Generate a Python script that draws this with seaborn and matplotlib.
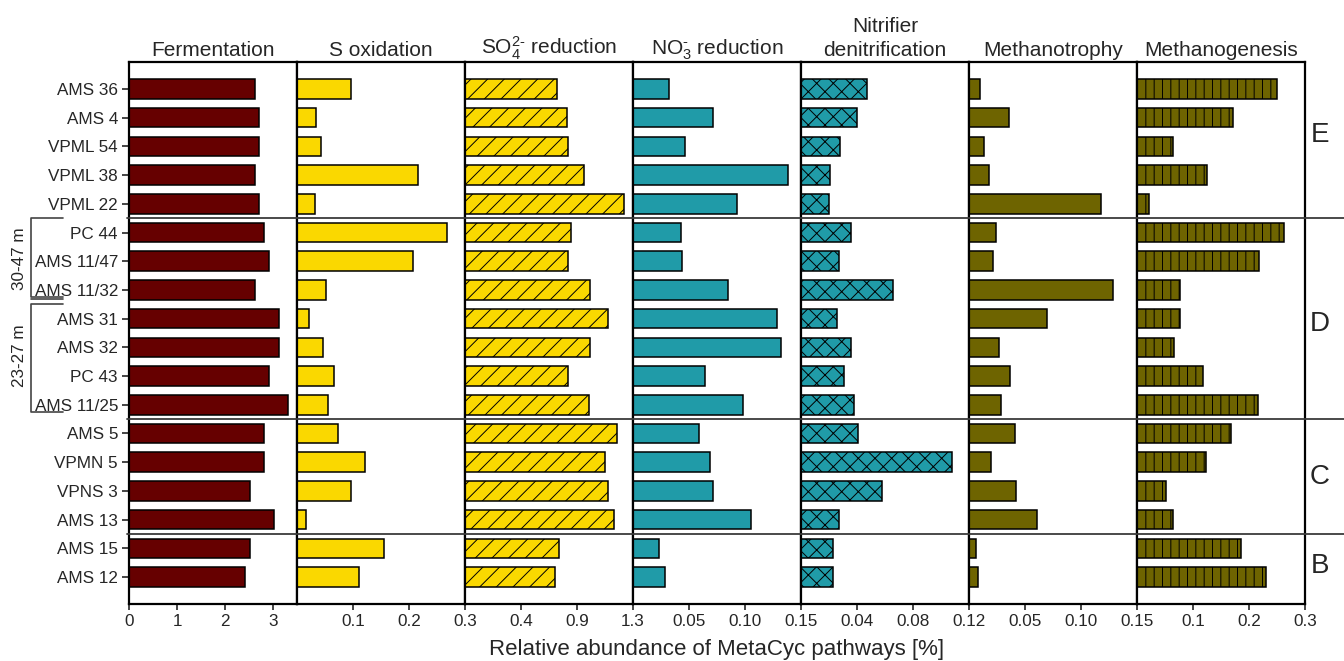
import numpy as np
import pandas as pd
import seaborn as sns
import matplotlib.pyplot as plt
from matplotlib.lines import Line2D
from matplotlib import transforms

# sample order top -> bottom
samples = ["AMS 36", "AMS 4", "VPML 54", "VPML 38", "VPML 22",
           "PC 44", "AMS 11/47", "AMS 11/32", "AMS 31", "AMS 32", "PC 43", "AMS 11/25",
           "AMS 5", "VPMN 5", "VPNS 3", "AMS 13",
           "AMS 15", "AMS 12"]

fermentation = [2.62, 2.71, 2.71, 2.62, 2.71,
                2.81, 2.92, 2.62, 3.12, 3.12, 2.92, 3.31,
                2.81, 2.81, 2.52, 3.02,
                2.52, 2.42]
s_oxidation = [0.096, 0.034, 0.042, 0.216, 0.032,
               0.267, 0.208, 0.052, 0.022, 0.047, 0.066, 0.055,
               0.074, 0.122, 0.097, 0.016,
               0.155, 0.110]
so4_reduction = [0.71, 0.79, 0.80, 0.92, 1.23,
                 0.82, 0.80, 0.97, 1.11, 0.97, 0.80, 0.96,
                 1.18, 1.08, 1.11, 1.15,
                 0.73, 0.70]
no3_reduction = [0.032, 0.071, 0.046, 0.138, 0.093,
                 0.043, 0.044, 0.085, 0.129, 0.132, 0.064, 0.098,
                 0.059, 0.069, 0.071, 0.105,
                 0.023, 0.029]
nitrifier_denit = [0.047, 0.040, 0.028, 0.021, 0.020,
                   0.036, 0.027, 0.066, 0.026, 0.036, 0.031, 0.038,
                   0.041, 0.108, 0.058, 0.027,
                   0.023, 0.023]
methanotrophy = [0.010, 0.036, 0.013, 0.018, 0.118,
                 0.024, 0.021, 0.129, 0.070, 0.027, 0.037, 0.029,
                 0.041, 0.020, 0.042, 0.061,
                 0.006, 0.008]
methanogenesis = [0.250, 0.171, 0.065, 0.125, 0.021,
                  0.263, 0.218, 0.077, 0.077, 0.066, 0.118, 0.216,
                  0.168, 0.123, 0.052, 0.064,
                  0.186, 0.230]

titles = ["Fermentation", "S oxidation", r"SO$_4^{2\text{-}}$ reduction",
          r"NO$_3^{\text{-}}$ reduction", "Nitrifier\ndenitrification",
          "Methanotrophy", "Methanogenesis"]
series = [fermentation, s_oxidation, so4_reduction, no3_reduction,
          nitrifier_denit, methanotrophy, methanogenesis]
x_max = [3.5, 0.3, 1.3, 0.15, 0.12, 0.15, 0.3]
x_ticks = [[0, 1, 2, 3], [0.1, 0.2, 0.3], [1.3 / 3, 2.6 / 3, 1.3],
           [0.05, 0.10, 0.15], [0.04, 0.08, 0.12], [0.05, 0.10, 0.15],
           [0.1, 0.2, 0.3]]
x_ticklabels = [["0", "1", "2", "3"], ["0.1", "0.2", "0.3"], ["0.4", "0.9", "1.3"],
                ["0.05", "0.10", "0.15"], ["0.04", "0.08", "0.12"],
                ["0.05", "0.10", "0.15"], ["0.1", "0.2", "0.3"]]
colors = ["#660000", "#FAD800", "#FAD800", "#209BA8", "#209BA8", "#6E6400", "#6E6400"]
hatches = [None, None, "//", None, "xx", None, "||"]

group_letters = ["E", "D", "C", "B"]
group_centers = [1.6, 8.2, 13.5, 16.6]
group_breaks = [4.5, 11.5, 15.5]

sns.set_style("ticks")
plt.rcParams["font.family"] = ["Liberation Sans", "DejaVu Sans"]
plt.rcParams["mathtext.fontset"] = "custom"
plt.rcParams["mathtext.rm"] = "Liberation Sans"
plt.rcParams["mathtext.it"] = "Liberation Sans"
plt.rcParams["hatch.linewidth"] = 0.7
plt.rcParams["hatch.color"] = "black"

W, H = 1344, 661
fig, axes = plt.subplots(1, 7, figsize=(W / 100, H / 100), dpi=100)
fig.subplots_adjust(left=129 / W, right=1305 / W, bottom=1 - 604 / H,
                    top=1 - 62 / H, wspace=0)

n = len(samples)
for i, ax in enumerate(axes):
    df = pd.DataFrame({"sample": samples, "value": series[i]})
    sns.barplot(data=df, x="value", y="sample", order=samples, orient="h",
                color=colors[i], saturation=1, edgecolor="black",
                linewidth=1.1, width=0.68, ax=ax)
    if hatches[i]:
        for p in ax.patches:
            p.set_hatch(hatches[i])
    ax.set_xlim(0, x_max[i])
    ax.set_ylim(n - 1 + 0.94, -0.94)
    ax.set_xticks(x_ticks[i])
    ax.set_xticklabels(x_ticklabels[i])
    ax.set_xlabel("")
    ax.set_ylabel("")
    ax.set_title(titles[i], fontsize=15, pad=4, linespacing=1.35)
    for sp in ax.spines.values():
        sp.set_visible(True)
        sp.set_linewidth(1.6)
        sp.set_color("black")
    ax.tick_params(axis="x", direction="out", length=4, width=1.2,
                   labelsize=12.3, pad=3)
    if i == 0:
        ax.tick_params(axis="y", direction="out", length=5, width=1.2,
                       labelsize=12.3, pad=3)
    else:
        ax.tick_params(axis="y", left=False, labelleft=False)

ax0 = axes[0]
trans = transforms.blended_transform_factory(fig.transFigure, ax0.transData)

# horizontal separators between depth groups
for yb in group_breaks:
    fig.add_artist(Line2D([127 / W, 1.0], [yb, yb], transform=trans,
                          color="#3a3a3a", lw=1.3, zorder=10))

for letter, yc in zip(group_letters, group_centers):
    fig.text(1320 / W, yc, letter, transform=trans, fontsize=20,
             ha="center", va="center")

# depth brackets on the left
bx0, bx1 = 31 / W, 63 / W
bracket_color = "#444444"
for top, bottom, label, ymid in [(4.5, 7.25, "30-47 m", 5.9),
                                 (7.49, 11.25, "23-27 m", 9.3)]:
    fig.add_artist(Line2D([bx1, bx0, bx0, bx1], [top, top, bottom, bottom],
                          transform=trans, color=bracket_color, lw=1.2))
    fig.text(20 / W, ymid, label, transform=trans, fontsize=12.3,
             rotation=90, ha="center", va="center")
fig.add_artist(Line2D([bx0, bx1], [7.33, 7.33], transform=trans,
                      color=bracket_color, lw=1.2))

fig.text(717 / W, 1 - 650 / H, "Relative abundance of MetaCyc pathways [%]",
         fontsize=16, ha="center", va="center")

fig.savefig("out.png", dpi=100)
